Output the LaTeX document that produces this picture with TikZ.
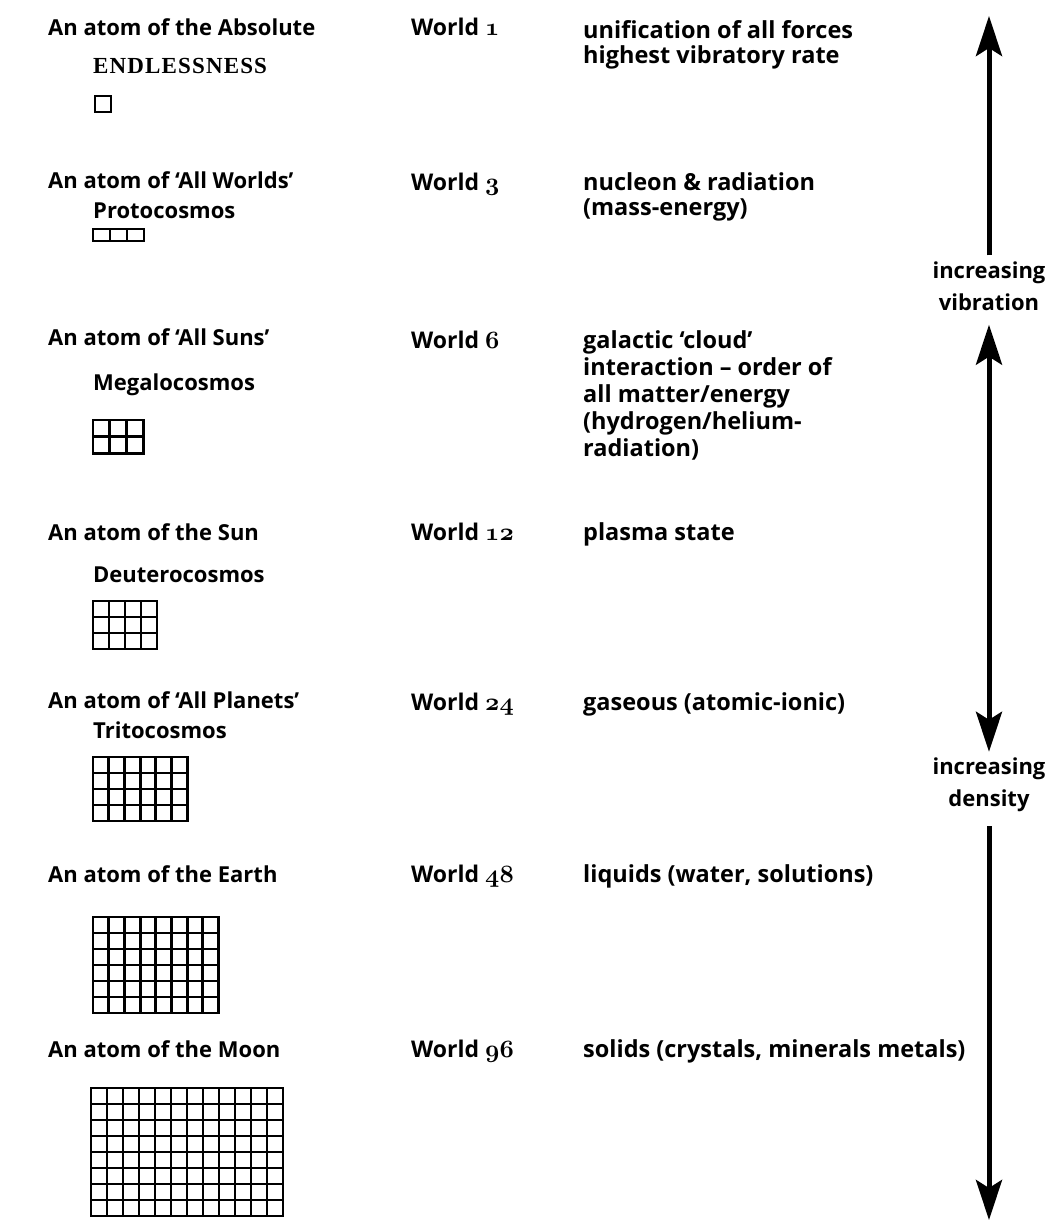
\documentclass[tikz,border=0pt]{standalone}
\usepackage{fontspec}
\setmainfont{Open Sans}
\newfontfamily\capsserif[LetterSpace=5]{Liberation Serif}
\usetikzlibrary{arrows.meta}
\newcommand\osn[1]{{\usefont{OML}{cmm}{b}{it}#1}}
\newcommand\atomgrid[6]{%
  \foreach \i in {0,...,#3}{\draw[gridline] ({#1+\i*#5},#2) -- ++(0,{#4*#6});}
  \foreach \j in {0,...,#4}{\draw[gridline] (#1,{#2+\j*#6}) -- ++({#3*#5},0);}}
\begin{document}
\begin{tikzpicture}[x=1pt,y=-1pt,
  txt/.style={anchor=west,inner sep=0pt,text height=16pt,text depth=5pt,
    font=\bfseries\fontsize{22}{26}\selectfont},
  wld/.style={anchor=west,inner sep=0pt,text height=16pt,text depth=5pt,
    font=\bfseries\fontsize{23}{26}\selectfont},
  dsc/.style={anchor=west,inner sep=0pt,text height=17pt,text depth=6pt,
    font=\bfseries\fontsize{23.5}{27}\selectfont},
  caps/.style={anchor=west,inner sep=0pt,text height=16pt,text depth=5pt,
    font=\capsserif\bfseries\fontsize{23}{26}\selectfont},
  gridline/.style={line width=2.9pt,line cap=rect,black},
  side/.style={align=center,inner sep=0pt,font=\bfseries\fontsize{22}{32}\selectfont},
  arr/.style={line width=5pt,-{Stealth[length=40pt,width=26pt,inset=8pt]}},
  arrboth/.style={line width=5pt,{Stealth[length=40pt,width=26pt,inset=8pt]}-{Stealth[length=40pt,width=26pt,inset=8pt]}}]
\useasboundingbox[fill=white] (0,0) rectangle (1050,1224);
% row 1
\node[txt] (a1) at (48,30) {An atom of the Absolute};
\node[caps] (s1) at (93,68) {ENDLESSNESS};
\node[wld] (w1) at (411,30) {World \osn{1}};
\node[dsc] (d1a) at (583,33) {unification of all forces};
\node[dsc] (d1b) at (583,58) {highest vibratory rate};
\atomgrid{95}{96}{1}{1}{16}{16}
% row 2
\node[txt] (a2) at (48,183) {An atom of ‘All Worlds’};
\node[txt] (s2) at (93,213) {Protocosmos};
\node[wld] (w2) at (411,185) {World \osn{3}};
\node[dsc] (d2a) at (583,185) {nucleon \& radiation};
\node[dsc] (d2b) at (583,210) {(mass-energy)};
\atomgrid{93}{229}{3}{1}{17}{12}
% row 3
\node[txt] (a3) at (48,340) {An atom of ‘All Suns’};
\node[txt] (s3) at (93,385) {Megalocosmos};
\node[wld] (w3) at (411,343) {World \osn{6}};
\node[dsc] (d3a) at (583,343) {galactic ‘cloud’};
\node[dsc] (d3b) at (583,370) {interaction – order of};
\node[dsc] (d3c) at (583,397) {all matter/energy};
\node[dsc] (d3d) at (583,424) {(hydrogen/helium-};
\node[dsc] (d3e) at (583,451) {radiation)};
\atomgrid{93}{420}{3}{2}{16.7}{16.7}
% row 4
\node[txt] (a4) at (48,535) {An atom of the Sun};
\node[txt] (s4) at (93,577) {Deuterocosmos};
\node[wld] (w4) at (411,535) {World \osn{12}};
\node[dsc] (d4) at (583,535) {plasma state};
\atomgrid{93}{601}{4}{3}{16}{16}
% row 5
\node[txt] (a5) at (48,703) {An atom of ‘All Planets’};
\node[txt] (s5) at (93,733) {Tritocosmos};
\node[wld] (w5) at (411,705) {World \osn{24}};
\node[dsc] (d5) at (583,705) {gaseous (atomic-ionic)};
\atomgrid{93}{757}{6}{4}{15.7}{16}
% row 6
\node[txt] (a6) at (48,877) {An atom of the Earth};
\node[wld] (w6) at (411,877) {World \osn{48}};
\node[dsc] (d6) at (583,877) {liquids (water, solutions)};
\atomgrid{93}{917}{8}{6}{15.7}{16}
% row 7
\node[txt] (a7) at (48,1052) {An atom of the Moon};
\node[wld] (w7) at (411,1052) {World \osn{96}};
\node[dsc] (d7) at (583,1052) {solids (crystals, minerals metals)};
\atomgrid{91}{1088}{12}{8}{16}{16}
% side arrows
\node[side] (lv) at (989,286) {increasing\\vibration};
\node[side] (ld) at (989,785) {increasing\\density};
\coordinate (top) at (989,16);
\coordinate (bot) at (989,1220);
\draw[arr,shorten <=6pt] (lv.north) -- (top);
\draw[arrboth,shorten <=14pt,shorten >=6pt] (lv.south) -- (ld.north);
\draw[arr,shorten <=14pt] (ld.south) -- (bot);
\end{tikzpicture}
\end{document}
